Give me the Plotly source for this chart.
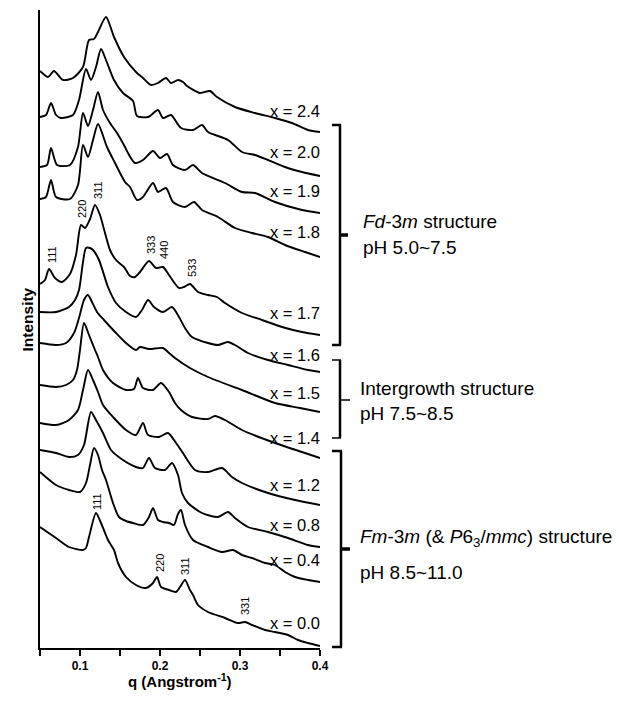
import plotly.graph_objects as go

# ---- data (q in 1/Angstrom, intensity in arbitrary stacked units) ----
labels = ["x = 2.4", "x = 2.0", "x = 1.9", "x = 1.8", "x = 1.7", "x = 1.6",
          "x = 1.5", "x = 1.4", "x = 1.2", "x = 0.8", "x = 0.4", "x = 0.0"]

# each curve stored as pixel-read positions (x px, y px) then mapped to q / intensity
px_x24 = [(40,71),(48,77),(54,71),(63,80),(73,78),(83,67),(89,40),(94,39),(98,32),(106,17),(114,37),(124,57),(136,72),(143,78),(151,85),(158,83),(166,78),(171,83),(178,80),(183,82),(187,86),(200,93),(210,91),(217,97),(235,107),(255,113),(275,118),(292,123),(308,130),(320,132)]
px_x20 = [(40,117),(46,115),(51,103),(56,115),(61,118),(73,115),(79,100),(86,69),(91,80),(96,67),(101,49),(106,60),(114,80),(123,93),(133,101),(137,116),(148,117),(158,110),(163,118),(171,115),(181,128),(193,130),(202,125),(208,132),(228,140),(242,152),(255,155),(268,160),(285,167),(302,172),(320,176)]
px_x19 = [(40,167),(47,165),(51,148),(57,165),(70,165),(78,147),(83,113),(88,126),(93,110),(98,92),(103,110),(110,123),(117,133),(125,147),(128,153),(135,163),(143,160),(153,151),(160,158),(167,154),(173,165),(185,170),(193,165),(202,173),(225,183),(242,192),(255,193),(275,202),(302,210),(320,213)]
px_x18 = [(40,199),(46,197),(51,180),(56,197),(70,199),(78,185),(83,145),(88,157),(93,140),(98,124),(107,147),(115,163),(125,182),(130,187),(137,200),(143,197),(153,183),(158,192),(166,188),(173,202),(185,207),(194,202),(202,210),(218,217),(235,228),(252,233),(268,237),(285,245),(305,252),(320,257)]
px_x17 = [(40,284),(45,280),(49,269),(55,278),(62,282),(70,274),(76,255),(81,225),(85,228),(90,219),(95,205),(100,215),(105,233),(110,250),(116,260),(124,267),(130,276),(135,277),(140,272),(149,261),(156,268),(163,267),(169,275),(179,288),(184,287),(190,284),(198,292),(208,295),(217,297),(225,303),(242,313),(262,320),(282,327),(302,332),(320,335)]
px_x16 = [(40,312),(56,312),(69,307),(75,300),(79,290),(83,262),(86,248),(90,248),(93,250),(99,260),(108,287),(116,303),(126,312),(136,317),(142,310),(148,300),(154,307),(163,312),(172,307),(179,317),(185,328),(192,337),(208,343),(218,345),(228,342),(235,345),(248,353),(268,360),(288,365),(308,370),(320,372)]
px_x15 = [(40,343),(56,345),(66,343),(74,333),(79,318),(84,300),(88,295),(92,302),(97,312),(104,320),(116,333),(126,343),(136,350),(140,347),(149,349),(163,348),(169,353),(175,358),(190,368),(208,377),(242,390),(275,403),(300,408),(320,412)]
px_x14 = [(40,385),(56,387),(66,385),(73,380),(77,370),(80,350),(84,323),(89,335),(95,350),(98,357),(103,370),(113,383),(126,390),(134,389),(138,378),(143,388),(153,390),(161,383),(169,392),(175,403),(181,410),(192,417),(208,419),(215,416),(225,420),(242,430),(275,443),(302,452),(320,458)]
px_x12 = [(40,423),(56,425),(69,420),(78,410),(83,390),(88,370),(93,380),(98,392),(103,405),(113,417),(126,430),(136,435),(143,423),(148,435),(159,437),(168,433),(176,443),(181,450),(195,470),(208,472),(222,468),(232,477),(242,483),(268,493),(295,500),(320,505)]
px_x08 = [(40,450),(56,453),(69,457),(78,455),(84,445),(91,412),(96,420),(103,433),(111,450),(123,460),(136,467),(143,468),(149,458),(155,468),(165,470),(172,463),(178,475),(182,493),(188,503),(202,513),(218,517),(228,512),(235,518),(248,527),(268,532),(288,538),(308,545),(320,547)]
px_x04 = [(40,472),(56,485),(69,490),(80,492),(86,483),(90,465),(94,448),(98,455),(102,470),(106,480),(113,503),(119,517),(126,521),(133,523),(143,525),(149,517),(153,508),(158,520),(163,522),(169,523),(174,525),(178,514),(181,510),(185,525),(193,540),(208,547),(222,552),(233,550),(242,555),(252,558),(265,563),(275,565),(285,572),(295,577),(308,580),(320,582)]
px_x00 = [(40,527),(56,538),(69,547),(83,550),(86,548),(89,537),(96,513),(101,523),(108,540),(114,550),(118,563),(126,577),(136,585),(146,588),(153,583),(157,577),(161,587),(169,590),(176,592),(180,587),(185,580),(190,590),(193,595),(198,605),(208,612),(225,618),(238,623),(245,622),(252,625),(265,630),(275,632),(288,635),(298,640),(308,643),(320,646)]

curves_px = [px_x24, px_x20, px_x19, px_x18, px_x17, px_x16,
             px_x15, px_x14, px_x12, px_x08, px_x04, px_x00]

# pixel -> data mapping of the reference (q axis 0.05..0.4 over 40..320 px; intensity 0..638 over 648..10 px)
def to_q(px):
    return 0.05 + (px - 40) / 800.0

def to_I(py):
    return 648 - py

FONT = "Arial, Liberation Sans, sans-serif"

fig = go.Figure()
for pts in curves_px:
    fig.add_trace(go.Scatter(
        x=[to_q(p[0]) for p in pts], y=[to_I(p[1]) for p in pts],
        mode="lines", line=dict(color="black", width=1.9, shape="spline", smoothing=0.7),
        showlegend=False, hoverinfo="skip"))

W, H = 619, 703
L, R, T, B = 40, 320, 10, 648

def pxx(x):
    return (x - L) / (R - L)

def pxy(y):
    return (B - y) / (B - T)

ann = []
# curve labels
label_y = [111, 152, 191, 232, 313, 355, 393, 438, 485, 525, 560, 623]
for t, yy in zip(labels, label_y):
    ann.append(dict(text=t, x=pxx(322), y=pxy(yy), xref="paper", yref="paper",
                    xanchor="right", yanchor="middle", showarrow=False,
                    font=dict(family=FONT, size=16.5, color="black")))

# Miller index labels (rotated)
hkl = [("111", 52, 255), ("220", 82, 209), ("311", 98, 190), ("333", 151, 245),
       ("440", 164, 250), ("533", 192, 268),
       ("111", 97, 502), ("220", 160, 563), ("311", 185, 566), ("331", 245, 606)]
for t, xx, yy in hkl:
    ann.append(dict(text=t, x=pxx(xx), y=pxy(yy), xref="paper", yref="paper",
                    textangle=-90, showarrow=False, xanchor="center", yanchor="middle",
                    font=dict(family=FONT, size=11, color="black")))

# bracket labels
blabels = [
    dict(text="<i>Fd</i>-3<i>m</i> structure", x=pxx(361), y=pxy(222)),
    dict(text="pH 5.0~7.5", x=pxx(361), y=pxy(247)),
    dict(text="Intergrowth structure", x=pxx(358), y=pxy(388)),
    dict(text="pH 7.5~8.5", x=pxx(358), y=pxy(413)),
    dict(text="<i>Fm</i>-3<i>m</i> (&amp; <i>P</i>6<sub>3</sub>/<i>mmc</i>) structure", x=pxx(358), y=pxy(538)),
    dict(text="pH 8.5~11.0", x=pxx(358), y=pxy(572)),
]
for a in blabels:
    a.update(xref="paper", yref="paper", xanchor="left", yanchor="middle", showarrow=False,
             font=dict(family=FONT, size=19, color="black"))
ann += blabels

# axis titles
ann.append(dict(text="<b>Intensity</b>", x=pxx(16), y=pxy(320), xref="paper", yref="paper",
                textangle=-90, showarrow=False, font=dict(family=FONT, size=15.5, color="black")))
ann.append(dict(text="<b>q (Angstrom<sup>-1</sup>)</b>", x=pxx(180), y=pxy(692), xref="paper", yref="paper",
                showarrow=False, font=dict(family=FONT, size=15, color="black")))

shapes = []
def seg(x0, y0, x1, y1, w=2.5):
    shapes.append(dict(type="line", xref="paper", yref="paper",
                       x0=pxx(x0), y0=pxy(y0), x1=pxx(x1), y1=pxy(y1),
                       line=dict(color="black", width=w)))

# Fd-3m bracket
seg(340, 125, 340, 345); seg(332, 125, 341, 125); seg(332, 345, 341, 345); seg(340, 235, 348, 235, 3.5)
# Intergrowth bracket
seg(340, 360, 340, 438); seg(332, 360, 341, 360, 1.5); seg(332, 438, 341, 438, 1.5); seg(340, 400, 350, 400, 1.5)
# Fm-3m bracket
seg(341, 451, 341, 647); seg(332, 451, 342, 451); seg(332, 647, 342, 647); seg(341, 549, 350, 549, 3.5)

fig.update_layout(
    width=W, height=H, paper_bgcolor="white", plot_bgcolor="white",
    margin=dict(l=L, r=W - R, t=T, b=H - B),
    annotations=ann, shapes=shapes, showlegend=False,
    xaxis=dict(range=[0.05, 0.4], showgrid=False, zeroline=False, showline=True,
               linecolor="black", linewidth=2, ticks="outside", ticklen=6, tickwidth=1.5,
               tickcolor="black", tick0=0, dtick=0.1, tickformat=".1f", automargin=False,
               minor=dict(ticks="outside", dtick=0.05, ticklen=6, tickwidth=1.5, tickcolor="black", showgrid=False),
               tickfont=dict(family=FONT, size=12, color="black", weight="bold")),
    yaxis=dict(range=[0, 638], showgrid=False, zeroline=False, showline=True, automargin=False,
               linecolor="black", linewidth=2, ticks="", showticklabels=False),
)

fig.write_html("out.html", config={"displayModeBar": False, "staticPlot": True},
               post_script="document.body.style.margin='0px';document.body.style.overflow='hidden';")
